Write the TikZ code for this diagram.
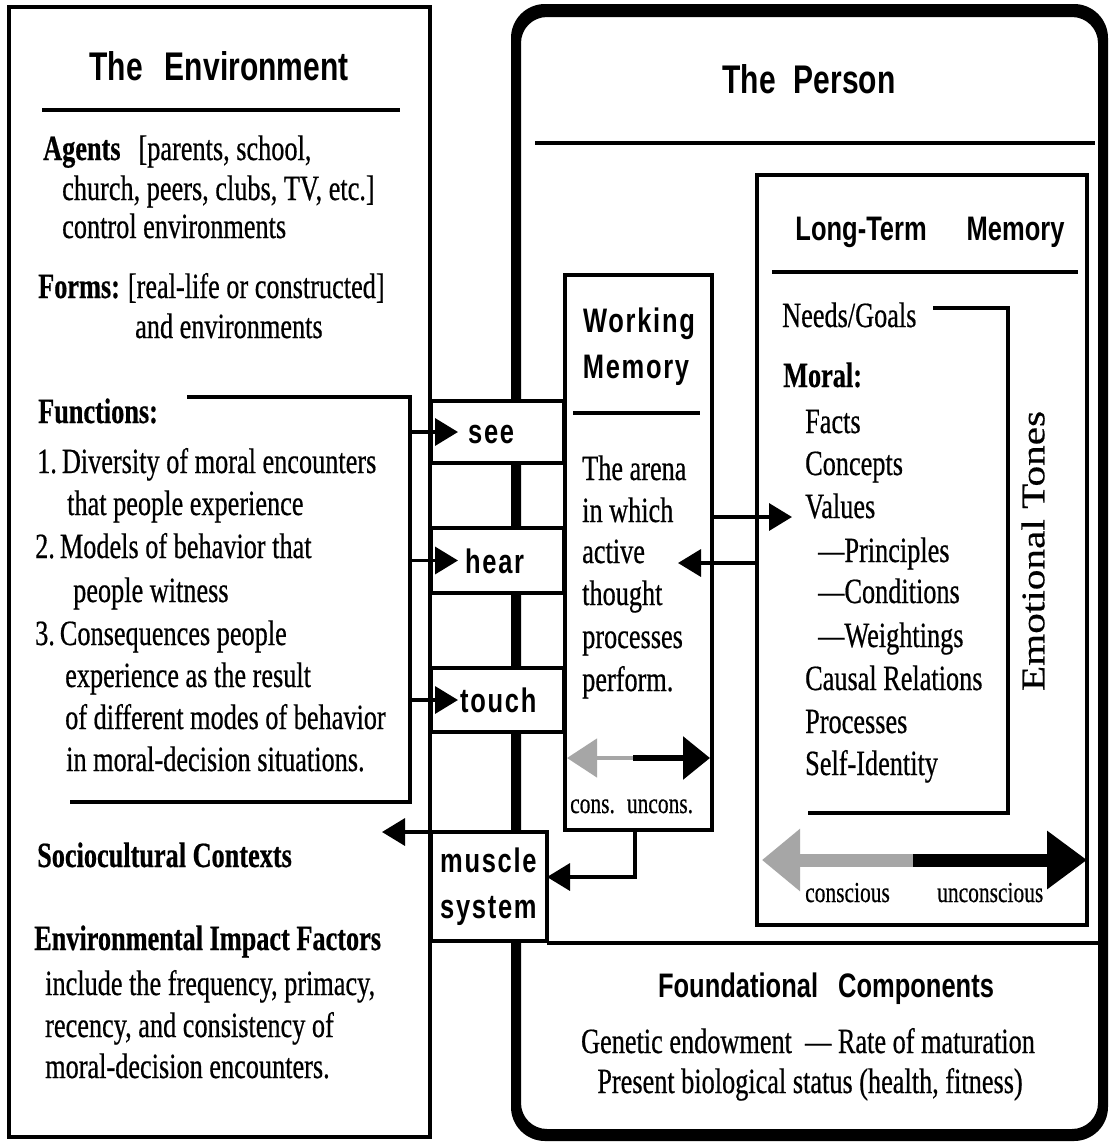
\documentclass[tikz,border=0pt]{standalone}
\usepackage{fontspec}
\setmainfont{Liberation Serif}[FakeStretch=0.74,FakeBold=0.5]
\setsansfont{Liberation Sans}[FakeStretch=0.75]
\newfontfamily\spsans{Liberation Sans}[FakeStretch=0.75,LetterSpace=5]
\newfontfamily\wideserif{Liberation Serif}[FakeStretch=1.25,FakeBold=0.5]
\usetikzlibrary{arrows.meta,calc}
\tikzset{
 tm/.style={font=\fontsize{35.5}{42}\selectfont, inner sep=0pt, anchor=base west},
 tmc/.style={tm, anchor=base},
 hd/.style={font=\sffamily\bfseries\fontsize{40}{46}\selectfont, inner sep=0pt, anchor=base},
 sub/.style={font=\sffamily\bfseries\fontsize{34}{40}\selectfont, inner sep=0pt, anchor=base},
 sp/.style={font=\spsans\bfseries\fontsize{34}{40}\selectfont, inner sep=0pt},
 sm/.style={font=\fontsize{29}{34}\selectfont, inner sep=0pt, anchor=base west},
 ln/.style={line width=3.5pt},
 box/.style={draw, line width=3.2pt, fill=white, inner sep=0pt, outer sep=0pt},
 arr/.style={line width=3.5pt, -{Triangle[length=23pt,width=27pt]}},
}
\begin{document}
\begin{tikzpicture}[x=1pt,y=-1pt]
\useasboundingbox (0,0) rectangle (1109,1144);
\fill[white] (0,0) rectangle (1109,1144);

% ---------- The Environment ----------
\draw[ln] (9,7) rectangle (430,1137);
\node[hd] (envT) at (219,80) {The\hspace{22pt}Environment};
\draw[ln] (42,110) -- (400,110);
\node[tm] (ag1) at (43,160) {\textbf{Agents}\hspace{18pt}[parents, school,};
\node[tm] (ag2) at (62,200) {church, peers, clubs, TV, etc.]};
\node[tm] (ag3) at (62,238) {control environments};
\node[tm] (fo1) at (38,298) {\textbf{Forms:}\hspace{8pt}[real-life or constructed]};
\node[tm] (fo2) at (135,338) {and environments};

\coordinate (fTL) at (187,397);
\coordinate (fR) at (410,397);
\coordinate (fBR) at (410,802);
\coordinate (fBL) at (70,802);
\draw[ln] (fTL) -- (fR) -- (fBR) -- (fBL);
\node[tm] (fn) at (38,423) {\textbf{Functions:}};
\node[tm] (f1a) at (37,473) {1.\hspace{5pt}Diversity of moral encounters};
\node[tm] (f1b) at (67,515) {that people experience};
\node[tm] (f2a) at (35,558) {2.\hspace{5pt}Models of behavior that};
\node[tm] (f2b) at (73,602) {people witness};
\node[tm] (f3a) at (35,645) {3.\hspace{5pt}Consequences people};
\node[tm] (f3b) at (65,687) {experience as the result};
\node[tm] (f3c) at (65,729) {of different modes of behavior};
\node[tm] (f3d) at (66,771) {in moral-decision situations.};

\node[tm] (soc) at (37,867) {\textbf{Sociocultural Contexts}};
\node[tm] (eif) at (34,950) {\textbf{Environmental Impact Factors}};
\node[tm] (ei1) at (45,995) {include the frequency, primacy,};
\node[tm] (ei2) at (45,1037) {recency, and consistency of};
\node[tm] (ei3) at (45,1078) {moral-decision encounters.};

% ---------- The Person ----------
\fill[even odd rule] (511,4) [rounded corners=34pt] rectangle (1108,1141)
  (521,17) [rounded corners=26pt] rectangle (1098,1129);
\node[hd] (perT) at (809,93) {The\hspace{18pt}Person};
\draw[ln] (535,143) -- (1095,143);

% Long-Term Memory
\node[draw, line width=4.5pt, inner sep=0pt, outer sep=0pt, minimum width=330pt, minimum height=750pt] (ltm) at (922,550) {};
\node[sub] (ltmT) at (930,240) {Long-Term\hspace{40pt}Memory};
\draw[ln] (772,272) -- (1078,272);
\node[tm] (ng) at (782,327) {Needs/Goals};
\draw[ln] (933,308) -| (1008,813) -- (808,813);
\node[tm] (mo) at (783,387) {\textbf{Moral:}};
\node[tm] (l1) at (805,433) {Facts};
\node[tm] (l2) at (805,475) {Concepts};
\node[tm] (l3) at (805,518) {Values};
\node[tm] (l4) at (818,562) {—Principles};
\node[tm] (l5) at (818,603) {—Conditions};
\node[tm] (l6) at (818,647) {—Weightings};
\node[tm] (l7) at (805,690) {Causal Relations};
\node[tm] (l8) at (805,733) {Processes};
\node[tm] (l9) at (805,775) {Self-Identity};
\node[font=\wideserif\fontsize{33}{40}\selectfont, rotate=90, inner sep=0pt] (emo) at (1033,551) {Emotional Tones};

\coordinate (ltmMid) at (913,860);
\coordinate (ltmL) at (762,860);
\coordinate (ltmR) at (1087,860);
\draw[line width=13pt, black!35, -{Triangle[length=38pt,width=60pt]}] (ltmMid) -- (ltmL);
\draw[line width=13pt, -{Triangle[length=40pt,width=56pt]}] (ltmMid) -- (ltmR);
\node[sm] (cs) at (805,902) {conscious};
\node[sm] (ucs) at (937,902) {unconscious};

% Working Memory
\node[draw, line width=3.5pt, fill=white, inner sep=0pt, outer sep=0pt, minimum width=147pt, minimum height=555pt] (wm) at (638.5,552.5) {};
\node[sp, anchor=base] (wmT1) at (639,332) {Working};
\node[sp, anchor=base] (wmT2) at (636,378) {Memory};
\draw[ln] (573,413) -- (700,413);
\node[tm] (w1) at (582,480) {The arena};
\node[tm] (w2) at (582,522) {in which};
\node[tm] (w3) at (582,563) {active};
\node[tm] (w4) at (582,605) {thought};
\node[tm] (w5) at (582,648) {processes};
\node[tm] (w6) at (582,691) {perform.};
\coordinate (wmMid) at (633,758);
\coordinate (wmL) at (567,758);
\coordinate (wmR) at (710,758);
\draw[line width=4.5pt, black!35, -{Triangle[length=30pt,width=38pt]}] (wmMid) -- (wmL);
\draw[line width=6pt, -{Triangle[length=27pt,width=42pt]}] (wmMid) -- (wmR);
\node[sm] (cu) at (570,813) {cons.\hspace{12pt}uncons.};

% Sense boxes
\node[box, minimum width=133pt, minimum height=62pt] (see) at (497.5,432) {};
\node[box, minimum width=133pt, minimum height=65pt] (hear) at (497.5,560.5) {};
\node[box, minimum width=133pt, minimum height=64pt] (touch) at (497.5,700) {};
\node[box, minimum width=116pt, minimum height=109pt] (muscle) at (489,886.5) {};
\node[sp, anchor=base west] (seeT) at (468,443) {see};
\node[sp, anchor=base west] (hearT) at (465,573) {hear};
\node[sp, anchor=base west] (touchT) at (460,712) {touch};
\node[sp, anchor=base west] (musT1) at (440,872) {muscle};
\node[sp, anchor=base west] (musT2) at (440,918) {system};

% Foundational Components
\draw[ln] ($(muscle.south east)+(0,2)$) -- (1099,943);
\node[sub] (fcT) at (826,997) {Foundational\hspace{20pt}Components};
\node[tmc] (fc1) at (808,1053) {Genetic endowment\ \ — Rate of maturation};
\node[tmc] (fc2) at (810,1093) {Present biological status (health, fitness)};

% Connectors
\draw[arr] (fR |- see.west) -- ($(see.west)+(27,0)$);
\draw[arr] (fR |- hear.west) -- ($(hear.west)+(27,0)$);
\draw[arr] (fR |- touch.west) -- ($(touch.west)+(27,0)$);
\coordinate (valIn) at (792,517);
\draw[arr] (wm.east |- valIn) -- (valIn);
\coordinate (arenaIn) at (678,563);
\draw[arr] (ltm.west |- arenaIn) -- (arenaIn);
\draw[arr] ($(wm.south west)+(70,0)$) |- ($(muscle.east)+(0,-9.5)$);
\coordinate (socIn) at (382,832);
\draw[arr] (muscle.north west) -- (socIn);
\end{tikzpicture}
\end{document}
